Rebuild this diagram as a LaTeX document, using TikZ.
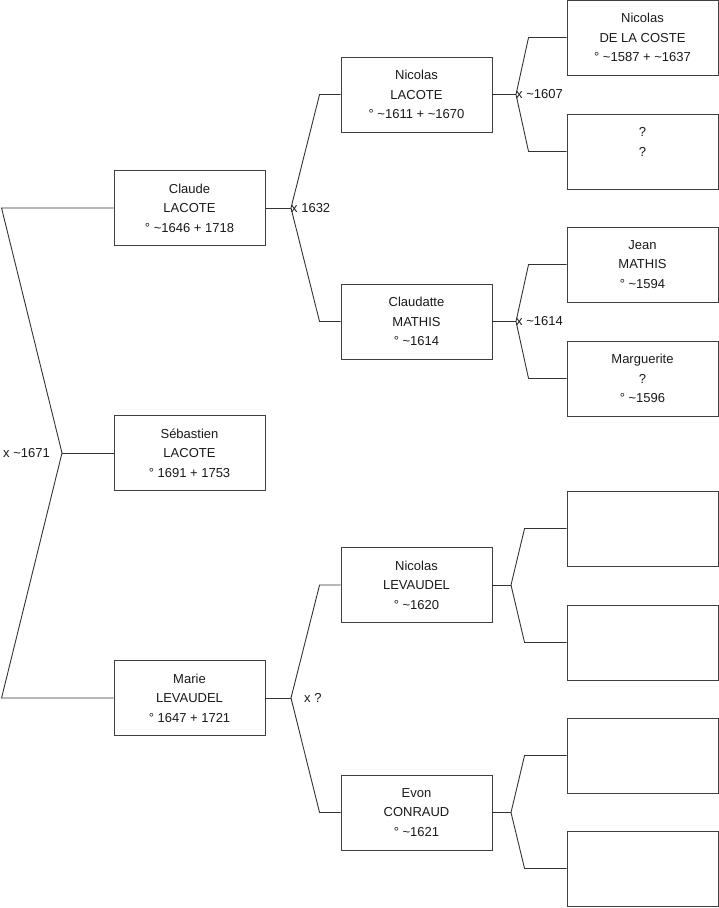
\documentclass[tikz,border=0pt]{standalone}
\usepackage{fontspec}
\setmainfont{Liberation Sans}
\usetikzlibrary{positioning,calc}
\newcommand{\ca}{\textasciitilde}
\begin{document}
\begin{tikzpicture}[x=1pt,y=-1pt,
 person/.style={draw=black!75, line width=0.9pt, minimum width=151pt, minimum height=75pt,
                inner sep=0pt, align=center, font=\fontsize{13}{19.5}\selectfont, text=black!90},
 link/.style={black!80, line width=0.9pt},
 union/.style={anchor=west, inner sep=0pt, font=\fontsize{13}{14}\selectfont, text=black!90},
]
 \useasboundingbox (0,0) rectangle (719,908);
 % generation 1 and 2
 \node[person] (seb) at (189.5,453) {Sébastien\\ LACOTE\\ ° 1691 + 1753};
 \node[person] (claude) at (189.5,208) {Claude\\ LACOTE\\ ° \ca1646 + 1718};
 \node[person] (marie) at (189.5,698) {Marie\\ LEVAUDEL\\ ° 1647 + 1721};
 % generation 3
 \node[person] (nlacote) at (416.5,94.5) {Nicolas\\ LACOTE\\ ° \ca1611 + \ca1670};
 \node[person] (claudatte) at (416.5,321.5) {Claudatte\\ MATHIS\\ ° \ca1614};
 \node[person] (nlevaudel) at (416.5,585) {Nicolas\\ LEVAUDEL\\ ° \ca1620};
 \node[person] (evon) at (416.5,812.5) {Evon\\ CONRAUD\\ ° \ca1621};
 % generation 4
 \node[person] (ncoste) at (642.5,37.5) {Nicolas\\ DE LA COSTE\\ ° \ca1587 + \ca1637};
 \node[person] (unk) at (642.5,151.5) {?\\ ?\\ \mbox{}};
 \node[person] (jean) at (642.5,264.5) {Jean\\ MATHIS\\ ° \ca1594};
 \node[person] (marg) at (642.5,378.5) {Marguerite\\ ?\\ ° \ca1596};
 \node[person] (e1) at (642.5,528.5) {};
 \node[person] (e2) at (642.5,642.5) {};
 \node[person] (e3) at (642.5,755.5) {};
 \node[person] (e4) at (642.5,868.5) {};

 % forks
 \coordinate (fseb) at (62,453);
 \coordinate (fclaude) at (291,208);
 \coordinate (fmarie) at (291,698);
 \coordinate (fnlacote) at (516,94.5);
 \coordinate (fclaudatte) at (516,321.5);
 \coordinate (fnlevaudel) at (511,585);
 \coordinate (fevon) at (511,812.5);

 \draw[link] (seb.west) -- (fseb);
 \draw[link] (fseb) -- ([xshift=-112pt]claude.west) -- (claude.west);
 \draw[link] (fseb) -- ([xshift=-112pt]marie.west) -- (marie.west);

 \foreach \c/\f/\a/\b/\d in {claude/fclaude/nlacote/claudatte/21,marie/fmarie/nlevaudel/evon/21,
                             nlacote/fnlacote/ncoste/unk/38,claudatte/fclaudatte/jean/marg/38,
                             nlevaudel/fnlevaudel/e1/e2/42,evon/fevon/e3/e4/42}{
   \draw[link] (\c.east) -- (\f);
   \draw[link] (\f) -- ([xshift=-\d pt]\a.west) -- (\a.west);
   \draw[link] (\f) -- ([xshift=-\d pt]\b.west) -- (\b.west);
 }

 % marriages
 \node[union] (u0) at (3,453) {x \ca1671};
 \node[union] (u1) at (fclaude) {x 1632};
 \node[union] (u2) at ([xshift=13pt]fmarie) {x ?};
 \node[union] (u3) at (fnlacote) {x \ca1607};
 \node[union] (u4) at (fclaudatte) {x \ca1614};
\end{tikzpicture}
\end{document}
